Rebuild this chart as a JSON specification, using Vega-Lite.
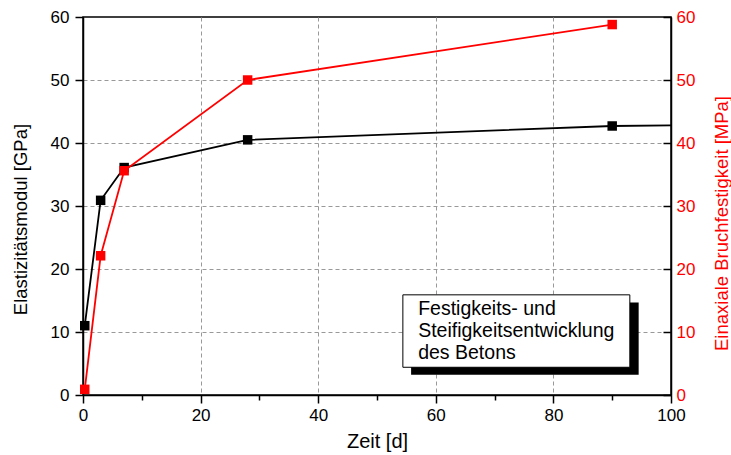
{
  "$schema": "https://vega.github.io/schema/vega-lite/v6.json",
  "width": 588,
  "height": 378,
  "autosize": {"type": "none"},
  "padding": {"left": 83, "top": 17, "right": 60, "bottom": 60},
  "background": "white",
  "config": {
    "font": "Liberation Sans",
    "view": {"stroke": "black", "strokeWidth": 1.5},
    "axis": {"labelFont": "Liberation Sans", "titleFont": "Liberation Sans", "labelFontSize": 17, "titleFontSize": 18.5, "titleFontWeight": "normal", "domainColor": "black", "domainWidth": 1.5, "tickColor": "black", "tickWidth": 1.5, "labelColor": "black", "titleColor": "black", "gridColor": "#999999", "gridDash": [4, 3], "gridWidth": 1}
  },
  "datasets": {
    "emod": [
      {"zeit": 0.3, "emod": 11.0},
      {"zeit": 3, "emod": 30.9},
      {"zeit": 7, "emod": 36.1},
      {"zeit": 28, "emod": 40.5},
      {"zeit": 90, "emod": 42.7},
      {"zeit": 100, "emod": 42.8}
    ],
    "festigkeit": [
      {"zeit": 0.3, "bruch": 0.9},
      {"zeit": 3, "bruch": 22.1},
      {"zeit": 7, "bruch": 35.6},
      {"zeit": 28, "bruch": 50.0},
      {"zeit": 90, "bruch": 58.8}
    ],
    "anno": [{"label": "box"}]
  },
  "layer": [
    {
      "layer": [
        {
          "data": {"name": "emod"},
          "mark": {"type": "line", "color": "black", "strokeWidth": 1.8, "clip": true},
          "encoding": {
            "x": {"field": "zeit", "type": "quantitative", "scale": {"domain": [0, 100], "nice": false},
              "axis": {"title": "Zeit [d]", "titleFontSize": 20, "values": [0, 10, 20, 30, 40, 50, 60, 70, 80, 90, 100], "labelExpr": "datum.value % 20 === 0 ? datum.label : ''", "tickSize": {"condition": {"test": "datum.value % 20 === 0", "value": 8}, "value": 5}, "gridOpacity": {"condition": {"test": "datum.value % 20 === 0 && datum.value > 0 && datum.value < 100", "value": 1}, "value": 0}, "labelPadding": 4, "titlePadding": 8, "labelFlush": false}},
            "y": {"field": "emod", "type": "quantitative", "scale": {"domain": [0, 60], "nice": false},
              "axis": {"title": "Elastizitätsmodul [GPa]", "orient": "left", "titleAngle": 270, "titleX": -63, "titleY": 202, "titleAlign": "center", "titleBaseline": "middle", "values": [0, 5, 10, 15, 20, 25, 30, 35, 40, 45, 50, 55, 60], "labelExpr": "datum.value % 10 === 0 ? datum.label : ''", "tickSize": {"condition": {"test": "datum.value % 10 === 0", "value": 8}, "value": 5}, "gridOpacity": {"condition": {"test": "datum.value % 10 === 0 && datum.value > 0 && datum.value < 60", "value": 1}, "value": 0}, "labelPadding": 6}}
          }
        },
        {
          "data": {"name": "emod"},
          "transform": [{"filter": "datum.zeit < 100"}],
          "mark": {"type": "square", "color": "black", "filled": true, "opacity": 1, "size": 90},
          "encoding": {
            "x": {"field": "zeit", "type": "quantitative"},
            "y": {"field": "emod", "type": "quantitative"}
          }
        },
        {
          "data": {"name": "anno"},
          "mark": {"type": "rect", "fill": "black"},
          "encoding": {
            "x": {"datum": 55.8, "type": "quantitative"},
            "x2": {"datum": 94.5},
            "y": {"datum": 3.2, "type": "quantitative"},
            "y2": {"datum": 14.7}
          }
        },
        {
          "data": {"name": "anno"},
          "mark": {"type": "rect", "fill": "white", "stroke": "black", "strokeWidth": 1},
          "encoding": {
            "x": {"datum": 54.4, "type": "quantitative"},
            "x2": {"datum": 93.0},
            "y": {"datum": 4.4, "type": "quantitative"},
            "y2": {"datum": 15.9}
          }
        },
        {
          "data": {"name": "anno"},
          "mark": {"type": "text", "align": "left", "baseline": "top", "font": "Liberation Sans", "fontSize": 19.5, "lineHeight": 22, "color": "black"},
          "encoding": {
            "x": {"datum": 57.0, "type": "quantitative"},
            "y": {"datum": 15.1, "type": "quantitative"},
            "text": {"value": ["Festigkeits- und", "Steifigkeitsentwicklung", "des Betons"]}
          }
        }
      ]
    },
    {
      "data": {"name": "festigkeit"},
      "layer": [
        {
          "mark": {"type": "line", "color": "#ff0000", "strokeWidth": 1.8},
          "encoding": {
            "x": {"field": "zeit", "type": "quantitative"},
            "y": {"field": "bruch", "type": "quantitative", "scale": {"domain": [0, 60], "nice": false},
              "axis": {"title": "Einaxiale Bruchfestigkeit [MPa]", "orient": "right", "titleAngle": 270, "titleX": 50, "titleY": 206, "titleAlign": "center", "titleBaseline": "middle", "values": [0, 5, 10, 15, 20, 25, 30, 35, 40, 45, 50, 55, 60], "labelExpr": "datum.value % 10 === 0 ? datum.label : ''", "tickSize": {"condition": {"test": "datum.value % 10 === 0", "value": -8}, "value": -5}, "grid": false, "labelColor": "#ff0000", "titleColor": "#ff0000", "labelPadding": 13}}
          }
        },
        {
          "mark": {"type": "square", "color": "#ff0000", "filled": true, "opacity": 1, "size": 90},
          "encoding": {
            "x": {"field": "zeit", "type": "quantitative"},
            "y": {"field": "bruch", "type": "quantitative"}
          }
        }
      ]
    }
  ],
  "resolve": {"scale": {"y": "independent"}, "axis": {"y": "independent"}}
}
